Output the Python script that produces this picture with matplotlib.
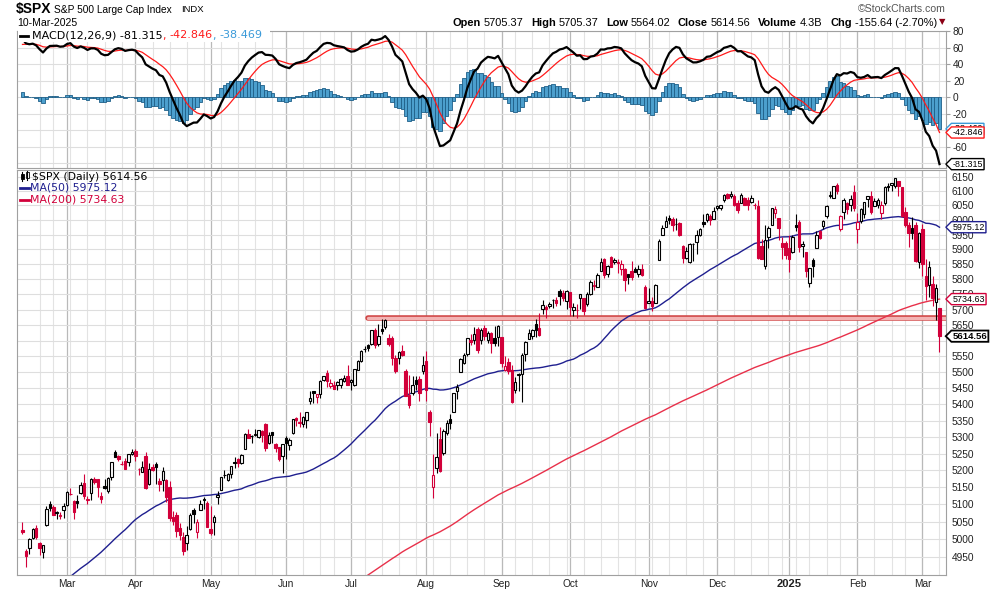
import numpy as np
import pandas as pd
import matplotlib
matplotlib.use('Agg')
import matplotlib.pyplot as plt
from matplotlib.path import Path
from matplotlib.patches import Rectangle
from matplotlib.lines import Line2D
import matplotlib.patheffects as pe

# closes before the window (20-Sep-2023 .. 9-Feb-2024), only used to warm up MA / MACD
closes_before = [4402, 4330, 4320, 4337, 4274, 4275, 4300, 4288,
                 4288, 4229, 4263, 4258, 4309, 4336, 4358, 4377, 4349, 4327, 4374, 4374, 4314, 4278,
                 4224, 4217, 4248, 4186, 4137, 4117, 4167, 4194,
                 4237, 4318, 4358, 4365, 4378, 4383, 4347, 4415, 4411, 4496, 4502, 4508, 4514, 4547,
                 4538, 4556, 4559, 4550, 4555, 4550, 4568,
                 4595, 4569, 4567, 4549, 4585, 4604, 4622, 4644, 4707, 4719, 4719, 4740, 4768, 4698,
                 4746, 4755, 4775, 4781, 4783, 4770,
                 4743, 4705, 4689, 4697, 4764, 4757, 4783, 4780, 4784, 4766, 4739, 4781, 4840, 4851,
                 4865, 4869, 4894, 4891, 4928, 4925, 4846,
                 4906, 4959, 4943, 4954, 4995, 4998, 5027]

holidays = ['2024-02-19', '2024-03-29', '2024-05-27', '2024-06-19', '2024-07-04', '2024-09-02',
            '2024-11-28', '2024-12-25', '2025-01-01', '2025-01-09', '2025-01-20', '2025-02-17']
dates = pd.bdate_range('2024-02-12', '2025-03-10')
dates = dates[~dates.isin(pd.to_datetime(holidays))]

opens = [5026, 4967, 4976, 5004, 5031, 4989, 4963, 5039, 5101, 5093, 5074, 5067, 5085,
         5098, 5131, 5110, 5109, 5132, 5164, 5112, 5134, 5174, 5175, 5124, 5154, 5139, 5182, 5254, 5243, 5220, 5228, 5226, 5249,
         5258, 5204, 5195, 5244, 5159, 5211, 5218, 5168, 5172, 5172, 5150, 5064, 5069, 5032, 5005, 4988, 5028, 5084, 5020, 5085, 5114, 5103,
         5029, 5050, 5122, 5142, 5187, 5173, 5190, 5226, 5234, 5221, 5263, 5310, 5303, 5305, 5299, 5320, 5341, 5282, 5315, 5278, 5270, 5244,
         5297, 5275, 5313, 5358, 5343, 5341, 5353, 5409, 5441, 5424, 5432, 5477, 5499, 5458, 5460, 5460, 5460, 5473, 5488,
         5471, 5461, 5508, 5537, 5572, 5585, 5591, 5635, 5590, 5638, 5645, 5610, 5608, 5544, 5544, 5566, 5505, 5429, 5434, 5476, 5479, 5505,
         5537, 5377, 5151, 5206, 5293, 5252, 5312, 5354, 5376, 5442, 5501, 5530, 5558, 5602, 5603, 5637, 5602, 5640, 5603, 5625, 5608, 5612,
         5612, 5506, 5532, 5507, 5443, 5491, 5496, 5557, 5605, 5614, 5655, 5641, 5703, 5709, 5711, 5733, 5733, 5762, 5756, 5727,
         5757, 5698, 5698, 5737, 5737, 5719, 5751, 5778, 5775, 5829, 5866, 5816, 5875, 5859, 5857, 5833, 5835, 5817, 5826, 5834, 5819, 5835, 5775,
         5723, 5728, 5722, 5864, 5947, 5977, 6008, 6003, 5985, 5990, 5912, 5870, 5857, 5917, 5924, 5948, 5993, 6000, 6014, 6004,
         6040, 6042, 6069, 6089, 6081, 6083, 6057, 6060, 6074, 6068, 6063, 6053, 6047, 5913, 5843, 5941, 5984, 6025, 6006, 5921, 5920,
         5904, 5892, 5983, 5994, 5910, 5891, 5789, 5864, 5906, 5963, 5979, 6014, 6081, 6076, 6121, 5970, 6027, 6058, 6051, 6096,
         5969, 5998, 6021, 6073, 6083, 6047, 6050, 6025, 6060, 6116, 6121, 6117, 6134, 6115, 6027, 5982, 5971, 5981, 5857,
         5969, 5811, 5782, 5785, 5726, 5705]
highs = [5048, 4971, 5003, 5033, 5039, 4993, 4983, 5094, 5111, 5097, 5080, 5077, 5104,
         5140, 5149, 5114, 5128, 5165, 5189, 5125, 5179, 5180, 5176, 5136, 5175, 5180, 5225, 5261, 5247, 5229, 5236, 5249, 5264,
         5263, 5208, 5229, 5256, 5222, 5219, 5224, 5178, 5211, 5175, 5168, 5080, 5077, 5046, 5019, 5038, 5076, 5089, 5057, 5114, 5123, 5111,
         5096, 5069, 5139, 5181, 5200, 5191, 5214, 5240, 5238, 5250, 5311, 5325, 5306, 5325, 5323, 5323, 5342, 5315, 5316, 5283, 5270, 5280,
         5303, 5296, 5354, 5362, 5375, 5365, 5376, 5441, 5442, 5433, 5477, 5488, 5506, 5478, 5472, 5472, 5482, 5490, 5524,
         5479, 5510, 5539, 5570, 5584, 5590, 5635, 5642, 5655, 5670, 5670, 5622, 5615, 5556, 5567, 5585, 5509, 5492, 5488, 5487, 5487, 5552,
         5567, 5383, 5250, 5312, 5330, 5326, 5351, 5371, 5436, 5464, 5546, 5561, 5608, 5621, 5643, 5643, 5642, 5651, 5631, 5628, 5647, 5651,
         5612, 5552, 5546, 5523, 5484, 5498, 5560, 5600, 5636, 5637, 5671, 5690, 5733, 5716, 5724, 5736, 5741, 5767, 5764, 5765,
         5757, 5723, 5718, 5753, 5739, 5757, 5797, 5796, 5822, 5871, 5870, 5846, 5879, 5871, 5866, 5863, 5836, 5817, 5862, 5842, 5847, 5850, 5781,
         5772, 5742, 5784, 5936, 5983, 6012, 6018, 6009, 6008, 5994, 5916, 5909, 5923, 5921, 5964, 5973, 6021, 6025, 6020, 6044,
         6053, 6052, 6090, 6092, 6100, 6088, 6068, 6093, 6080, 6078, 6085, 6057, 6070, 5936, 5982, 5978, 6041, 6049, 6007, 5941, 5929,
         5949, 5950, 6021, 6000, 5927, 5891, 5838, 5872, 5961, 5964, 6000, 6051, 6100, 6119, 6128, 6018, 6075, 6063, 6087, 6120,
         6023, 6042, 6062, 6084, 6101, 6074, 6076, 6064, 6116, 6128, 6129, 6147, 6134, 6115, 6044, 5992, 6010, 5994, 5959,
         5987, 5866, 5860, 5812, 5783, 5705]
lows = [5016, 4920, 4957, 4999, 4999, 4955, 4946, 5038, 5082, 5068, 5058, 5058, 5061,
        5094, 5127, 5057, 5091, 5131, 5117, 5101, 5114, 5161, 5123, 5105, 5146, 5132, 5172, 5240, 5229, 5216, 5203, 5214, 5246,
        5229, 5185, 5195, 5146, 5157, 5198, 5161, 5138, 5138, 5107, 5053, 5040, 5007, 4998, 4954, 4969, 5027, 5047, 5002, 5084, 5088, 5035,
        5013, 5011, 5101, 5142, 5179, 5168, 5179, 5208, 5211, 5218, 5263, 5296, 5283, 5302, 5297, 5286, 5257, 5278, 5281, 5256, 5228, 5192,
        5234, 5261, 5310, 5335, 5331, 5331, 5327, 5402, 5403, 5404, 5421, 5472, 5455, 5452, 5447, 5446, 5452, 5471, 5459,
        5446, 5457, 5508, 5531, 5564, 5566, 5586, 5576, 5584, 5620, 5636, 5584, 5522, 5497, 5525, 5550, 5425, 5390, 5430, 5444, 5409, 5496,
        5410, 5302, 5120, 5193, 5195, 5247, 5306, 5325, 5376, 5418, 5501, 5526, 5550, 5585, 5591, 5561, 5591, 5602, 5593, 5561, 5584, 5582,
        5517, 5503, 5493, 5403, 5434, 5441, 5406, 5535, 5604, 5604, 5613, 5615, 5686, 5674, 5704, 5704, 5712, 5717, 5727, 5703,
        5681, 5678, 5674, 5702, 5683, 5713, 5747, 5764, 5775, 5829, 5805, 5809, 5840, 5851, 5821, 5815, 5762, 5785, 5799, 5824, 5807, 5811, 5703,
        5723, 5696, 5722, 5864, 5947, 5977, 5986, 5961, 5965, 5946, 5854, 5866, 5854, 5861, 5886, 5945, 5975, 5993, 5984, 6004,
        6035, 6033, 6061, 6071, 6077, 6048, 6024, 6060, 6052, 6034, 6059, 6036, 5867, 5866, 5833, 5903, 5983, 6007, 5932, 5868, 5869,
        5824, 5888, 5961, 5890, 5874, 5809, 5773, 5809, 5906, 5936, 5970, 6006, 6076, 6075, 6088, 5962, 6002, 6019, 6031, 6031,
        5923, 5991, 6007, 6046, 6020, 6047, 6042, 6004, 6050, 6100, 6100, 6111, 6084, 6009, 5977, 5908, 5934, 5858, 5837,
        5810, 5733, 5743, 5711, 5667, 5564]
closes = [5021, 4953, 5001, 5030, 5006, 4976, 4982, 5088, 5089, 5070, 5078, 5070, 5096,
          5137, 5131, 5079, 5105, 5157, 5124, 5117, 5175, 5165, 5150, 5117, 5149, 5179, 5225, 5241, 5234, 5218, 5204, 5248, 5254,
          5243, 5205, 5211, 5147, 5204, 5202, 5209, 5160, 5199, 5123, 5061, 5051, 5022, 5011, 4967, 5011, 5070, 5072, 5048, 5100, 5116, 5036,
          5018, 5064, 5128, 5181, 5187, 5188, 5214, 5223, 5221, 5247, 5308, 5297, 5303, 5308, 5321, 5307, 5268, 5305, 5306, 5267, 5235, 5278,
          5283, 5291, 5354, 5352, 5347, 5361, 5375, 5421, 5434, 5431, 5473, 5487, 5473, 5465, 5448, 5469, 5478, 5483, 5460,
          5475, 5509, 5537, 5567, 5572, 5577, 5633, 5585, 5615, 5631, 5667, 5589, 5545, 5505, 5564, 5556, 5427, 5399, 5459, 5464, 5436, 5522,
          5446, 5347, 5186, 5240, 5199, 5319, 5344, 5344, 5434, 5455, 5543, 5554, 5608, 5597, 5621, 5571, 5635, 5616, 5626, 5592, 5592, 5648,
          5529, 5520, 5503, 5408, 5471, 5496, 5554, 5596, 5626, 5634, 5634, 5618, 5714, 5703, 5719, 5732, 5722, 5745, 5738, 5762,
          5709, 5710, 5700, 5751, 5696, 5751, 5792, 5780, 5815, 5859, 5815, 5843, 5841, 5865, 5853, 5851, 5797, 5809, 5808, 5823, 5833, 5813, 5705,
          5729, 5712, 5782, 5929, 5973, 5996, 6001, 5984, 5985, 5949, 5871, 5894, 5917, 5917, 5949, 5969, 5987, 6021, 5999, 6032,
          6047, 6050, 6087, 6075, 6090, 6053, 6034, 6085, 6052, 6051, 6074, 6050, 5872, 5867, 5931, 5974, 6040, 6037, 5971, 5907, 5882,
          5869, 5942, 5975, 5909, 5918, 5827, 5836, 5843, 5950, 5937, 5997, 6049, 6086, 6119, 6101, 6012, 6068, 6039, 6071, 6041,
          5994, 6038, 6061, 6084, 6026, 6066, 6068, 6052, 6115, 6115, 6129, 6144, 6118, 6013, 5983, 5955, 5956, 5861, 5955,
          5850, 5778, 5842, 5739, 5770, 5615]

price_ticks = list(range(4950, 6151, 50))
macd_ticks = [-80, -60, -40, -20, 0, 20, 40, 60, 80]
resistance = 5673
resistance_from = '2024-07-09'
last_close = 5614.56
last_ma50 = 5975.12
last_ma200 = 5734.63
last_macd, last_signal, last_hist = -81.315, -42.846, -38.469
header = [('Open', '5705.37'), ('High', '5705.37'), ('Low', '5564.02'), ('Close', '5614.56'),
          ('Volume', '4.3B'), ('Chg', '-155.64 (-2.70%)')]

# indicators
allc = pd.Series(closes_before + closes, dtype=float)
nb = len(closes_before)
ma50 = allc.rolling(50).mean().values[nb:]
ma200 = allc.rolling(200).mean().values[nb:]
ema12 = allc.ewm(span=12, adjust=False).mean()
ema26 = allc.ewm(span=26, adjust=False).mean()
macd = ema12 - ema26
signal = macd.ewm(span=9, adjust=False).mean()
hist = (macd - signal).values[nb:]
macd = macd.values[nb:]
signal = signal.values[nb:]

o = np.array(opens, float)
h = np.array(highs, float)
l = np.array(lows, float)
c = np.array(closes, float)
prev = np.concatenate([[closes_before[-1]], c[:-1]])
x = np.arange(len(c))

RED = '#d2003a'
col = np.where(c < prev, RED, '#000000')
face = np.where(c > o, 'white', col)

fig = plt.figure(figsize=(9.9, 5.91), dpi=100)
W, H = 990, 591
def fx(px):
    return px / W
def fy(py):
    return 1 - py / H

ax_m = fig.add_axes([fx(17), fy(168), fx(946) - fx(17), fy(31) - fy(168)])
ax = fig.add_axes([fx(17), fy(575), fx(946) - fx(17), fy(170) - fy(575)])

xlim = (-1.6, 269.9)

# grid lines: week starts light, month starts darker
week_start = [i for i in range(1, len(dates)) if dates[i].weekday() < dates[i - 1].weekday()]
month_start = [i for i in range(1, len(dates)) if dates[i].month != dates[i - 1].month]
for a in (ax, ax_m):
    for i in week_start:
        a.axvline(i, color='#e3e3e3', lw=0.8, zorder=0)
    for i in month_start:
        a.axvline(i, color='#b9b9b9', lw=0.9, zorder=0)
    for s in a.spines.values():
        s.set_color('#a0a0a0')
        s.set_linewidth(0.8)
    a.set_xlim(*xlim)

# ---- price panel
ax.set_yscale('log')
ax.set_ylim(4898.5, 6173.6)
for p in price_ticks:
    ax.axhline(p, color='#dedede', lw=0.8, zorder=0)

ax.plot([x[dates.get_loc(pd.Timestamp(resistance_from))], xlim[1]], [resistance, resistance],
        color='#f3b4b4', lw=2.4, solid_capstyle='round', zorder=1,
        path_effects=[pe.Stroke(linewidth=4.0, foreground='#d04545'), pe.Normal()])

ax.plot(x, ma200, color='#e8304a', lw=1.0, zorder=2)
ax.plot(x, ma50, color='#1f1f8f', lw=1.0, zorder=2)

ax.vlines(x, l, h, colors=col, lw=0.8, zorder=3)
body_lo = np.minimum(o, c)
body_hi = np.maximum(o, c)
body_h = np.maximum(body_hi - body_lo, 0.6)
ax.bar(x, body_h, bottom=body_lo, width=0.72, color=face, edgecolor=col, linewidth=0.8, zorder=4)

ax.yaxis.tick_right()
ax.set_yticks(price_ticks)
# the 5600 label sits under the close tag
ax.set_yticklabels(['' if p == 5600 else str(p) for p in price_ticks])
ax.minorticks_off()
ax.tick_params(axis='y', length=0, pad=4, labelsize=7.3, labelcolor='#222222')
ax.set_xticks(month_start)
labels = ['2025' if dates[i].month == 1 else dates[i].strftime('%b') for i in month_start]
ax.set_xticklabels(labels)
ax.tick_params(axis='x', length=0, pad=3, labelsize=7.3, labelcolor='#222222')
for t in ax.get_xticklabels():
    t.set_family('Liberation Sans')
    if t.get_text() == '2025':
        t.set_fontweight('bold')
        t.set_fontsize(8)
for t in ax.get_yticklabels():
    t.set_family('Liberation Sans')


def tag_box(x0, y0, width, height, mutation_size):
    pad = 0.12 * mutation_size
    x0, y0 = x0 - pad, y0 - pad
    w, hh = width + 2 * pad, height + 2 * pad
    tip = 0.5 * hh
    verts = [(x0 - tip, y0 + hh / 2), (x0, y0 + hh), (x0 + w, y0 + hh), (x0 + w, y0), (x0, y0),
             (x0 - tip, y0 + hh / 2)]
    codes = [Path.MOVETO] + [Path.LINETO] * 4 + [Path.CLOSEPOLY]
    return Path(verts, codes)


def tag(a, yval, txt, edge, bold=False, size=6.4):
    a.text(1 + 6.5 / 929, yval, txt, transform=a.get_yaxis_transform(), ha='left', va='center',
           fontsize=size, family='Liberation Sans', fontweight='bold' if bold else 'normal',
           color='#000000', clip_on=False, zorder=20,
           bbox=dict(boxstyle=tag_box, facecolor='white', edgecolor=edge, linewidth=1.0 if not bold else 1.3))


tag(ax, last_ma50, f'{last_ma50:.2f}', '#1f1f8f')
tag(ax, last_ma200, f'{last_ma200:.2f}', RED)
tag(ax, last_close, f'{last_close:.2f}', '#000000', bold=True, size=6.8)

# legend in price panel
fig.add_artist(Line2D([fx(22), fx(22)], [fy(172), fy(181)], color='black', lw=0.8))
fig.add_artist(Rectangle((fx(21), fy(179)), fx(2.5), fy(174) - fy(179), facecolor='black', edgecolor='black', lw=0.6))
fig.add_artist(Line2D([fx(27), fx(27)], [fy(171), fy(180)], color='black', lw=0.8))
fig.add_artist(Rectangle((fx(26), fy(178)), fx(2.5), fy(172) - fy(178), facecolor='white', edgecolor='black', lw=0.6))
fig.text(fx(32), fy(176.5), f'$SPX (Daily) {last_close:.2f}', fontsize=7.8, va='center', color='black')
fig.add_artist(Line2D([fx(20), fx(29)], [fy(187.5), fy(187.5)], color='#1f1f8f', lw=2))
fig.text(fx(30), fy(187.5), f'MA(50) {last_ma50:.2f}', fontsize=7.8, va='center', color='#1f1f8f')
fig.add_artist(Line2D([fx(20), fx(29)], [fy(199.5), fy(199.5)], color=RED, lw=2))
fig.text(fx(30), fy(199.5), f'MA(200) {last_ma200:.2f}', fontsize=7.8, va='center', color=RED)

# ---- MACD panel
ax_m.set_ylim(-86, 80.5)
for v in macd_ticks:
    ax_m.axhline(v, color='#dedede', lw=0.8, zorder=0)
ax_m.bar(x, hist, width=1.0, color='#4c9fcd', edgecolor='#1e5f88', linewidth=0.6, zorder=2)
ax_m.plot(x, signal, color='#ff1a1a', lw=0.9, zorder=3)
ax_m.plot(x, macd, color='black', lw=1.6, zorder=4)
ax_m.yaxis.tick_right()
ax_m.set_yticks(macd_ticks)
# -40 and -80 are covered by the value tags
ax_m.set_yticklabels(['' if v in (-40, -80) else str(v) for v in macd_ticks])
ax_m.tick_params(axis='y', length=3, color='#a0a0a0', pad=2, labelsize=7.3, labelcolor='#222222')
for t in ax_m.get_yticklabels():
    t.set_family('Liberation Sans')
ax_m.set_xticks([])

tag(ax_m, last_hist, f'{last_hist:.3f}', '#3a9ad9')
tag(ax_m, last_signal, f'{last_signal:.3f}', '#ff1a1a')
tag(ax_m, last_macd, f'{last_macd:.3f}', '#000000')

# MACD legend
fig.patches.append(Rectangle((fx(18), fy(42)), fx(252), fy(30) - fy(42), transform=fig.transFigure,
                             facecolor='white', edgecolor='none', zorder=5))
fig.add_artist(Line2D([fx(20), fx(28)], [fy(35.5), fy(35.5)], color='black', lw=2, zorder=6))
fig.canvas.draw()
r = fig.canvas.get_renderer()
parts = [('MACD(12,26,9) ' + f'{last_macd:.3f}', 'black'), (', ', '#ff1a1a'),
         (f'{last_signal:.3f}', '#ff1a1a'), (', ', '#3a9ad9'), (f'{last_hist:.3f}', '#3a9ad9')]
xpos = 32
for s, cc in parts:
    tt = fig.text(fx(xpos), fy(35.5), s, fontsize=8, va='center', color=cc, zorder=7)
    xpos = tt.get_window_extent(r).x1

# ---- header
hf = ['Liberation Sans', 'DejaVu Sans']
fig.text(fx(16), fy(9.5), '$SPX', fontsize=10, fontweight='bold', family=hf, va='center')
fig.text(fx(54), fy(10), 'S&P 500 Large Cap Index', fontsize=7.3, family=hf, va='center')
fig.text(fx(181), fy(10), 'INDX', fontsize=6.8, family=hf, va='center')
fig.text(fx(17), fy(22.5), '10-Mar-2025', fontsize=7.6, family=hf, va='center')
fig.text(fx(946), fy(9), '\u00a9StockCharts.com', fontsize=7.6, family=hf, va='center', ha='right', color='#555555')

# lay the quote line out left to right, then shift it so it ends before the arrow
pieces = []
xpos = 0
for lab, val in header:
    t1 = fig.text(0, fy(22.5), lab, fontsize=7.9, family=hf, va='center', fontweight='bold')
    w1 = t1.get_window_extent(r).width
    t2 = fig.text(0, fy(22.5), val, fontsize=7.9, family=hf, va='center')
    w2 = t2.get_window_extent(r).width
    pieces.append((t1, xpos))
    pieces.append((t2, xpos + w1 + 3))
    xpos = xpos + w1 + 3 + w2 + 7.5
shift = 937 - (xpos - 7.5)
for t, px in pieces:
    t.set_x(fx(px + shift))
fig.text(fx(939), fy(22), '\u25bc', fontsize=6, family=['DejaVu Sans'], va='center', color='#8b0015')

fig.savefig('out.png', dpi=100)
